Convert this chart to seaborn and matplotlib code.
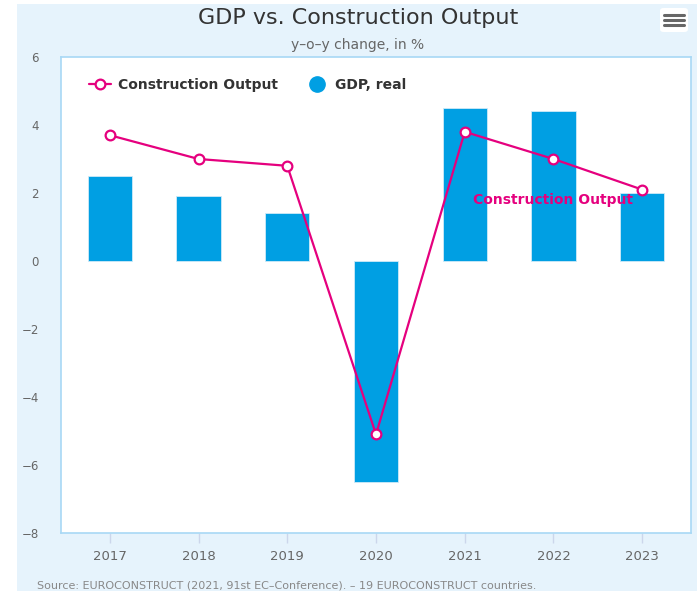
import numpy as np
import pandas as pd
import matplotlib
matplotlib.use("Agg")
import matplotlib.pyplot as plt
import seaborn as sns
from matplotlib.lines import Line2D
from matplotlib.patches import Rectangle, FancyBboxPatch

# Datos
years = ["2017", "2018", "2019", "2020", "2021", "2022", "2023"]
gdp_real = [2.5, 1.9, 1.4, -6.5, 4.5, 4.4, 2.0]
construction_output = [3.7, 3.0, 2.8, -5.1, 3.8, 3.0, 2.1]
y_ticks = [-8, -6, -4, -2, 0, 2, 4, 6]

BAR_COLOR = "#009fe3"
LINE_COLOR = "#e5007e"
BG_COLOR = "#e6f3fc"
TEXT_GRAY = "#666666"

sns.set_theme(style="white")
plt.rcParams['font.family'] = ['DejaVu Sans']

df = pd.DataFrame({
    "year": years,
    "pos": np.arange(len(years)),
    "gdp": gdp_real,
    "constr": construction_output,
})

fig = plt.figure(figsize=(6.97, 5.91), dpi=100, facecolor="white")
fig.patches.append(Rectangle((17 / 697, 0), 1 - 17 / 697, 587 / 591,
                             transform=fig.transFigure, facecolor=BG_COLOR,
                             edgecolor="none", zorder=-10))
ax = fig.add_axes([61 / 697, 58 / 591, 630 / 697, 476 / 591])
ax.set_facecolor("white")

sns.barplot(data=df, x="year", y="gdp", color=BAR_COLOR, width=0.5,
            saturation=1, edgecolor="#cfeaf8", linewidth=0.6, ax=ax, zorder=2)
sns.lineplot(data=df, x="pos", y="constr", color=LINE_COLOR, linewidth=1.6,
             marker="o", markersize=7, markerfacecolor="white",
             markeredgecolor=LINE_COLOR, markeredgewidth=1.6, ax=ax, zorder=3)

ax.set_xlim(-0.55, 6.55)
ax.set_ylim(-8, 6)
ax.set_yticks(y_ticks)
ax.set_yticklabels([str(t).replace("-", "\u2212") for t in y_ticks])
ax.set_xticks(df["pos"])
ax.set_xticklabels(years)
ax.set_xlabel("")
ax.set_ylabel("")

for s in ax.spines.values():
    s.set_color("#a8d8f5")
    s.set_linewidth(1.2)

ax.tick_params(axis="y", left=False, length=0, pad=16, labelsize=8.5,
               labelcolor=TEXT_GRAY)
ax.tick_params(axis="x", bottom=True, length=7, width=1, color="#ccd6eb",
               direction="out", pad=5, labelsize=9.5, labelcolor="#666666")

# Etiqueta de la serie
ax.text(5.0, 1.8, "Construction Output", color=LINE_COLOR, fontsize=10,
        fontweight="semibold", ha="center", va="center", zorder=4)

handles = [
    Line2D([0], [0], color=LINE_COLOR, linewidth=1.6, marker="o", markersize=7,
           markerfacecolor="white", markeredgecolor=LINE_COLOR, markeredgewidth=1.6),
    Line2D([0], [0], linestyle="none", marker="o", markersize=11,
           markerfacecolor=BAR_COLOR, markeredgecolor=BAR_COLOR),
]
leg = ax.legend(handles, ["Construction Output", "GDP, real"], loc="upper left",
                bbox_to_anchor=(0.024, 0.982), ncol=2, frameon=False,
                prop={"weight": "bold", "size": 10}, handlelength=1.6,
                handletextpad=0.5, columnspacing=2.0)
for t in leg.get_texts():
    t.set_color("#333333")

fig.text(358 / 697, 1 - 18 / 591, "GDP vs. Construction Output", ha="center",
         va="center", fontsize=16, color="#333333")
fig.text(358 / 697, 1 - 45 / 591, "y\u2013o\u2013y change, in %", ha="center",
         va="center", fontsize=10, color=TEXT_GRAY)
fig.text(37 / 697, 1 - 586 / 591,
         "Source: EUROCONSTRUCT (2021, 91st EC\u2013Conference). \u2013 19 EUROCONSTRUCT countries.",
         ha="left", va="center", fontsize=8, color="#888888")

# Icono de menú
fig.patches.append(FancyBboxPatch((660 / 697, 1 - 32 / 591), 28 / 697, 24 / 591,
                                  boxstyle="round,pad=0,rounding_size=0.005",
                                  transform=fig.transFigure, facecolor="white",
                                  edgecolor="none", zorder=5))
for yy in (15, 20, 25):
    fig.lines.append(Line2D([664 / 697, 684 / 697], [1 - yy / 591, 1 - yy / 591],
                            transform=fig.transFigure, color="#666666",
                            linewidth=2.2, zorder=6))

fig.savefig("out.png", dpi=100, facecolor=fig.get_facecolor())
